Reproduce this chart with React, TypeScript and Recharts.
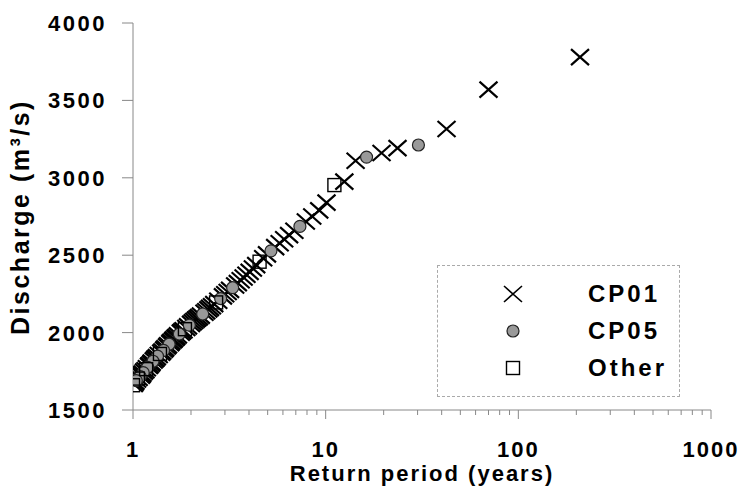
import React from 'react';
import { ScatterChart, Scatter, XAxis, YAxis } from 'recharts';

// return period (years) vs discharge (m3/s)
const cp01 = [
  { t: 209, q: 3780 }, { t: 70, q: 3570 }, { t: 42.4, q: 3315 }, { t: 23.6, q: 3192 },
  { t: 19.5, q: 3160 }, { t: 14.3, q: 3110 }, { t: 12.5, q: 2975 }, { t: 10.1, q: 2840 },
  { t: 9.26, q: 2790 }, { t: 8.52, q: 2750 }, { t: 7.89, q: 2718 }, { t: 6.88, q: 2658 },
  { t: 6.46, q: 2630 }, { t: 6.09, q: 2603 }, { t: 5.77, q: 2577 }, { t: 5.47, q: 2552 },
  { t: 4.96, q: 2505 }, { t: 4.74, q: 2480 }, { t: 4.36, q: 2436 }, { t: 4.19, q: 2414 },
  { t: 4.03, q: 2392 }, { t: 3.88, q: 2374 }, { t: 3.75, q: 2356 }, { t: 3.62, q: 2338 },
  { t: 3.5, q: 2320 }, { t: 3.39, q: 2304 }, { t: 3.19, q: 2276 }, { t: 3.1, q: 2262 },
  { t: 3.01, q: 2248 }, { t: 2.93, q: 2234 }, { t: 2.77, q: 2206 }, { t: 2.64, q: 2184 },
  { t: 2.57, q: 2170 }, { t: 2.51, q: 2160 }, { t: 2.46, q: 2150 }, { t: 2.4, q: 2138 },
  { t: 2.35, q: 2128 }, { t: 2.25, q: 2110 }, { t: 2.2, q: 2100 }, { t: 2.16, q: 2092 },
  { t: 2.12, q: 2084 }, { t: 2.08, q: 2075 }, { t: 2.04, q: 2066 }, { t: 2.0, q: 2056 },
  { t: 1.93, q: 2040 }, { t: 1.89, q: 2030 }, { t: 1.83, q: 2015 }, { t: 1.8, q: 2008 },
  { t: 1.77, q: 2000 }, { t: 1.71, q: 1982 }, { t: 1.68, q: 1972 }, { t: 1.66, q: 1966 },
  { t: 1.63, q: 1956 }, { t: 1.61, q: 1950 }, { t: 1.58, q: 1940 }, { t: 1.56, q: 1932 },
  { t: 1.52, q: 1918 }, { t: 1.5, q: 1910 }, { t: 1.47, q: 1898 }, { t: 1.45, q: 1890 },
  { t: 1.42, q: 1878 }, { t: 1.4, q: 1870 }, { t: 1.36, q: 1855 }, { t: 1.33, q: 1842 },
  { t: 1.31, q: 1833 }, { t: 1.3, q: 1829 }, { t: 1.28, q: 1820 }, { t: 1.25, q: 1806 },
  { t: 1.24, q: 1800 }, { t: 1.22, q: 1790 }, { t: 1.21, q: 1785 }, { t: 1.18, q: 1770 },
  { t: 1.16, q: 1757 }, { t: 1.14, q: 1748 }, { t: 1.12, q: 1735 }, { t: 1.11, q: 1728 },
  { t: 1.1, q: 1722 }, { t: 1.07, q: 1708 }, { t: 1.05, q: 1697 }, { t: 1.03, q: 1683 },
  { t: 1.02, q: 1676 }, { t: 1.01, q: 1668 },
];

const cp05 = [
  { t: 30.3, q: 3212 }, { t: 16.3, q: 3134 }, { t: 7.35, q: 2686 }, { t: 5.2, q: 2528 },
  { t: 3.29, q: 2290 }, { t: 2.85, q: 2220 }, { t: 2.3, q: 2120 }, { t: 1.96, q: 2048 },
  { t: 1.74, q: 1991 }, { t: 1.54, q: 1925 }, { t: 1.44, q: 1885 }, { t: 1.34, q: 1848 },
  { t: 1.27, q: 1815 }, { t: 1.19, q: 1776 }, { t: 1.13, q: 1741 }, { t: 1.09, q: 1716 },
  { t: 1.04, q: 1690 },
];

const other = [
  { t: 11.1, q: 2953 }, { t: 4.54, q: 2458 }, { t: 2.7, q: 2195 }, { t: 1.86, q: 2022 },
  { t: 1.38, q: 1862 }, { t: 1.17, q: 1764 }, { t: 1.06, q: 1703 }, { t: 1.0, q: 1660 },
];

const xTicks = [
  1, 2, 3, 4, 5, 6, 7, 8, 9, 10, 20, 30, 40, 50, 60, 70, 80, 90,
  100, 200, 300, 400, 500, 600, 700, 800, 900, 1000,
];
const xMajor = [1, 10, 100, 1000];
const yTicks = [1500, 2000, 2500, 3000, 3500, 4000];

const FONT = '"Liberation Sans", Arial, sans-serif';
const AXIS = '#888';

const Cross = ({ cx, cy, w = 2.2 }: any) => (
  <path
    d={`M${cx - 9},${cy - 8}L${cx + 9},${cy + 8}M${cx + 9},${cy - 8}L${cx - 9},${cy + 8}`}
    stroke="#000"
    strokeWidth={w}
    fill="none"
  />
);

const Dot = ({ cx, cy }: any) => (
  <circle cx={cx} cy={cy} r={6} fill="#999" stroke="#222" strokeWidth={1.2} />
);

const Box = ({ cx, cy }: any) => (
  <rect x={cx - 6.5} y={cy - 6.5} width={13} height={13} fill="none" stroke="#000" strokeWidth={1.4} />
);

const XTick = (props: any) => {
  const { x, y, payload } = props;
  const major = xMajor.includes(payload.value);
  return (
    <g>
      <line x1={x} y1={y} x2={x} y2={y + (major ? 9 : 5)} stroke={AXIS} />
      {major && (
        <text x={x} y={y + 47} textAnchor="middle" fontFamily={FONT} fontWeight="bold"
          fontSize={22} letterSpacing={2} fill="#000">
          {payload.value}
        </text>
      )}
    </g>
  );
};

const YTick = (props: any) => {
  const { x, y, payload } = props;
  return (
    <g>
      <line x1={x - 11} y1={y} x2={x} y2={y} stroke={AXIS} />
      <text x={x - 26} y={y + 8} textAnchor="end" fontFamily={FONT} fontWeight="bold"
        fontSize={22} letterSpacing={2.5} fill="#000">
        {payload.value}
      </text>
    </g>
  );
};

const legendRows = [
  { name: 'CP01', Mark: (p: any) => <Cross {...p} w={1.6} /> },
  { name: 'CP05', Mark: Dot },
  { name: 'Other', Mark: Box },
];

export default function App() {
  return (
    <div style={{ position: 'absolute', left: 0, top: 0, width: 740, height: 488, background: '#fff', fontFamily: FONT }}>
      <ScatterChart width={740} height={488} margin={{ top: 23, right: 29, bottom: 0, left: 0 }}>
        <XAxis
          dataKey="t"
          type="number"
          scale="log"
          domain={[1, 1000]}
          ticks={xTicks}
          interval={0}
          height={78}
          stroke={AXIS}
          tickLine={false}
          tickSize={0}
          tickMargin={0}
          tick={<XTick />}
          allowDataOverflow
          label={{
            content: () => (
              <text x={422} y={481} textAnchor="middle" fontFamily={FONT} fontWeight="bold"
                fontSize={22} letterSpacing={2} fill="#000">
                Return period (years)
              </text>
            ),
          }}
        />
        <YAxis
          dataKey="q"
          type="number"
          domain={[1500, 4000]}
          ticks={yTicks}
          interval={0}
          width={133}
          stroke={AXIS}
          tickLine={false}
          tickSize={0}
          tickMargin={0}
          tick={<YTick />}
          allowDataOverflow
          label={{
            content: () => (
              <text x={29} y={217} transform="rotate(-90, 29, 217)" textAnchor="middle"
                fontFamily={FONT} fontWeight="bold" fontSize={25} letterSpacing={2.5} fill="#000">
                Discharge (m³/s)
              </text>
            ),
          }}
        />
        <Scatter name="CP01" data={cp01} shape={(p: any) => <Cross {...p} />} isAnimationActive={false} />
        <Scatter name="CP05" data={cp05} shape={(p: any) => <Dot {...p} />} isAnimationActive={false} />
        <Scatter name="Other" data={other} shape={(p: any) => <Box {...p} />} isAnimationActive={false} />
      </ScatterChart>
      <div
        style={{
          position: 'absolute', left: 437, top: 265, width: 241, height: 130,
          border: '1px dashed #aaa', background: '#fff',
        }}
      >
        {legendRows.map((r, i) => (
          <div key={r.name} style={{ position: 'absolute', left: 0, top: 28 + i * 37 - 14, height: 28, width: 241 }}>
            <svg width={30} height={28} style={{ position: 'absolute', left: 60, top: 0 }}>
              <r.Mark cx={15} cy={14} />
            </svg>
            <span
              style={{
                position: 'absolute', left: 150, top: 0, lineHeight: '28px',
                fontSize: 24, fontWeight: 'bold', letterSpacing: 3, color: '#000',
              }}
            >
              {r.name}
            </span>
          </div>
        ))}
      </div>
    </div>
  );
}
